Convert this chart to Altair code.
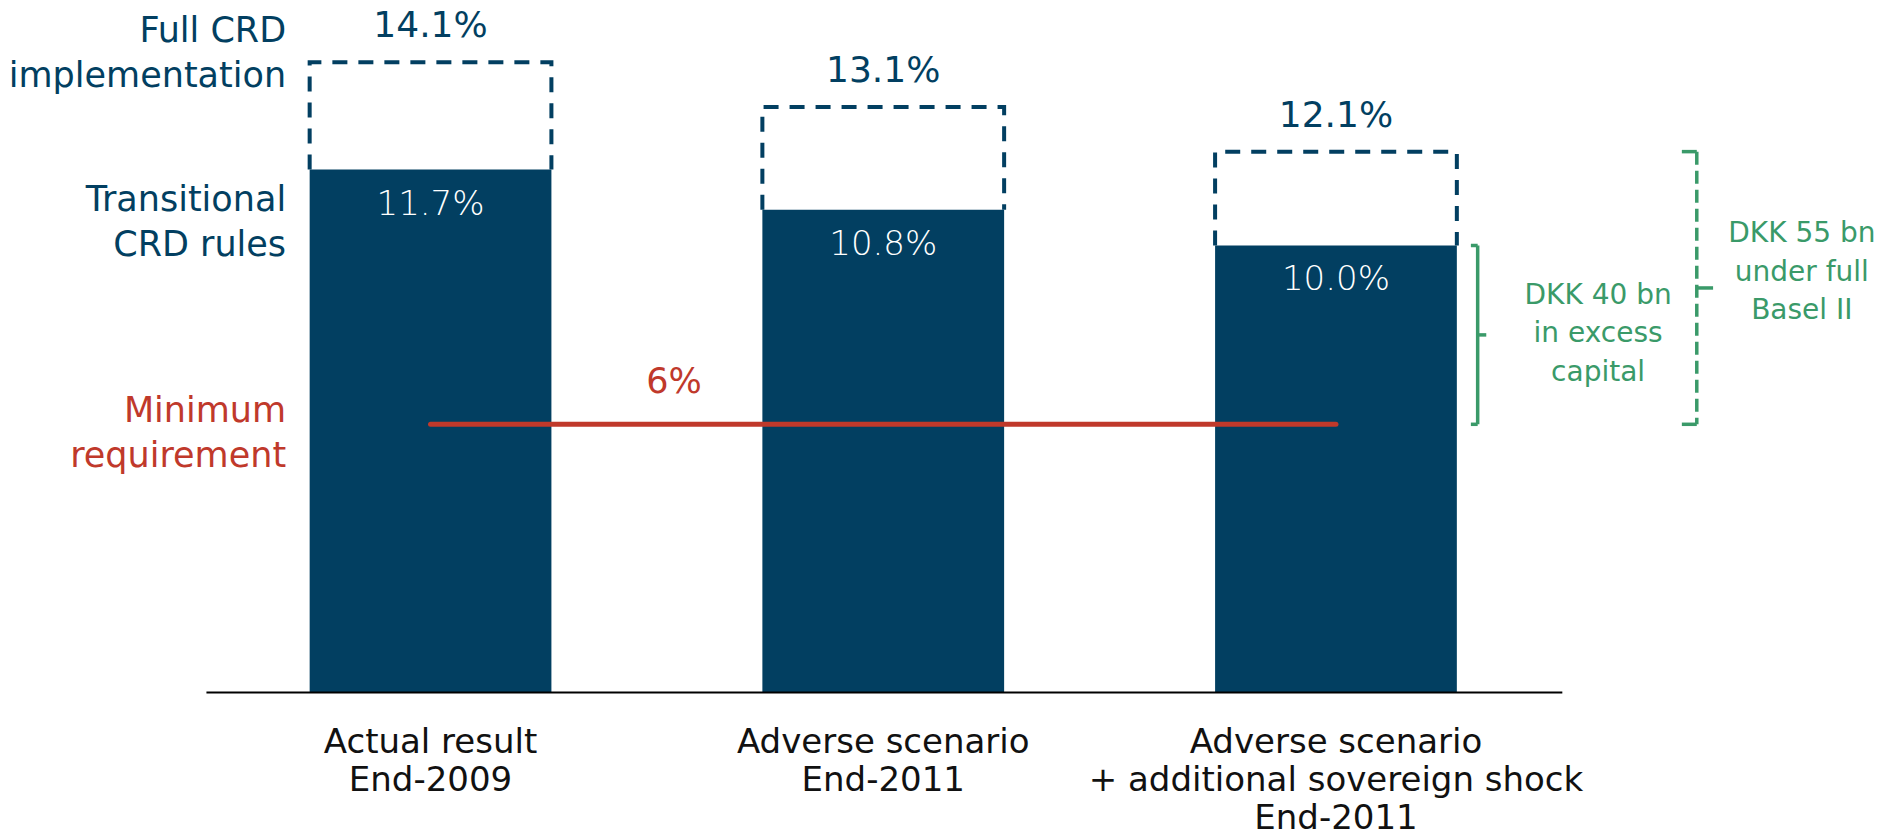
import altair as alt
import pandas as pd

# ---------------- data ----------------
categories = [
    "Actual result\nEnd-2009",
    "Adverse scenario\nEnd-2011",
    "Adverse scenario\n+ additional sovereign shock\nEnd-2011",
]
transitional = [11.7, 10.8, 10.0]      # Transitional CRD rules
full_crd = [14.1, 13.1, 12.1]          # Full CRD implementation
minimum_requirement = 6.0
row_labels = ["Full CRD\nimplementation", "Transitional\nCRD rules", "Minimum\nrequirement"]
excess_labels = ["DKK 40 bn\nin excess\ncapital", "DKK 55 bn\nunder full\nBasel II"]

# ---------------- style ----------------
NAVY = "#023f61"
RED = "#c0392b"
GREEN = "#3a9a69"
FONT = "DejaVu Sans"
H = 0.267  # half bar width in category units

X = alt.Scale(domain=[-0.951, 3.226], nice=False, zero=False)
Y = alt.Scale(domain=[-3.21, 15.492], nice=False, zero=False)


def xq(f):
    return alt.X(f, type="quantitative", scale=X, axis=None)


def yq(f):
    return alt.Y(f, type="quantitative", scale=Y, axis=None)


bars = pd.DataFrame({
    "idx": list(range(len(categories))),
    "cat": categories,
    "trans": transitional,
    "full": full_crd,
})
bars["xl"] = bars["idx"] - H
bars["xr"] = bars["idx"] + H
bars["base"] = 0.0
bars["trans_label"] = [f"{v:.1f}%" for v in transitional]
bars["full_label"] = [f"{v:.1f}%" for v in full_crd]
bars["cat_y"] = -0.76

box_rows = []
for i, (t, f) in enumerate(zip(transitional, full_crd)):
    for k, (dx, yy) in enumerate([(-H, t), (-H, f), (H, f), (H, t)]):
        box_rows.append({"bar": i, "ord": k, "x": i + dx, "y": yy})
box = pd.DataFrame(box_rows)

base = alt.Chart(bars)

solid = base.mark_rect(color=NAVY).encode(
    x=xq("xl"), x2="xr", y=yq("base"), y2="trans"
)

dashed_box = alt.Chart(box).mark_line(
    stroke=NAVY, strokeWidth=4, strokeDash=[15, 11]
).encode(x=xq("x"), y=yq("y"), detail="bar:N", order="ord:Q")

full_text = base.mark_text(
    baseline="middle", dy=-36, fontSize=36, font=FONT, color=NAVY
).encode(x=xq("idx"), y=yq("full"), text="full_label:N")

trans_text = base.mark_text(
    baseline="middle", dy=35, fontSize=34, font=FONT, color="white", fontWeight=200
).encode(x=xq("idx"), y=yq("trans"), text="trans_label:N")

cat_text = base.mark_text(
    baseline="top", align="center", fontSize=34, font=FONT, color="#111111",
    lineBreak="\n", lineHeight=38
).encode(x=xq("idx"), y=yq("cat_y"), text="cat:N")

axis_df = pd.DataFrame({"x": [-0.495], "x2": [2.5], "y": [0.0]})
axis_line = alt.Chart(axis_df).mark_rule(color="black", strokeWidth=2).encode(
    x=xq("x"), x2="x2", y=yq("y")
)

min_df = pd.DataFrame({"x": [0.0], "x2": [2.0], "y": [minimum_requirement],
                       "lx": [0.538], "label": [f"{minimum_requirement:.0f}%"]})
min_line = alt.Chart(min_df).mark_rule(color=RED, strokeWidth=5, strokeCap="round").encode(
    x=xq("x"), x2="x2", y=yq("y")
)
min_text = alt.Chart(min_df).mark_text(
    baseline="middle", dy=-42, fontSize=35, font=FONT, color=RED
).encode(x=xq("lx"), y=yq("y"), text="label:N")

# left-hand row labels (block centres in value units); first line sits at y, so shift up half a block
LH_LEFT = 45
left_df = pd.DataFrame({
    "label": row_labels,
    "x": [-0.319] * 3,
    "y": [14.35, 10.55, 5.85],
    "color": [NAVY, NAVY, RED],
})
left_text = alt.Chart(left_df).mark_text(
    align="right", baseline="middle", fontSize=35, font=FONT, lineBreak="\n",
    lineHeight=LH_LEFT, dy=-LH_LEFT / 2 + 2
).encode(x=xq("x"), y=yq("y"), text="label:N", color=alt.Color("color:N", scale=None))

# brackets
seg = []
xs, tl, nr = 2.313, 2.298, 2.332
top, bot = transitional[2], minimum_requirement
seg += [
    {"x": xs, "x2": xs, "y": top, "y2": bot, "dash": "solid"},
    {"x": tl, "x2": xs, "y": top, "y2": top, "dash": "solid"},
    {"x": tl, "x2": xs, "y": bot, "y2": bot, "dash": "solid"},
    {"x": xs, "x2": nr, "y": (top + bot) / 2, "y2": (top + bot) / 2, "dash": "solid"},
]
xd, tld, nrd = 2.797, 2.764, 2.833
topd = full_crd[2]
seg += [
    {"x": xd, "x2": xd, "y": topd, "y2": bot, "dash": "dashed"},
    {"x": tld, "x2": xd, "y": topd, "y2": topd, "dash": "solid"},
    {"x": tld, "x2": xd, "y": bot, "y2": bot, "dash": "solid"},
    {"x": xd, "x2": nrd, "y": (topd + bot) / 2, "y2": (topd + bot) / 2, "dash": "solid"},
]
seg_df = pd.DataFrame(seg)
br_solid = alt.Chart(seg_df).transform_filter("datum.dash == 'solid'").mark_rule(
    color=GREEN, strokeWidth=3.5
).encode(x=xq("x"), x2="x2", y=yq("y"), y2="y2")
br_dashed = alt.Chart(seg_df).transform_filter("datum.dash == 'dashed'").mark_rule(
    color=GREEN, strokeWidth=3.5, strokeDash=[13, 6]
).encode(x=xq("x"), x2="x2", y=yq("y"), y2="y2")

LH_GREEN = 38.5
green_df = pd.DataFrame({
    "label": excess_labels,
    "x": [2.579, 3.029],
    "y": [8.06, 9.44],
})
green_text = alt.Chart(green_df).mark_text(
    align="center", baseline="middle", fontSize=28, font=FONT, color=GREEN,
    lineBreak="\n", lineHeight=LH_GREEN, dy=-LH_GREEN + 2
).encode(x=xq("x"), y=yq("y"), text="label:N")

chart = alt.layer(
    solid, dashed_box, full_text, trans_text, min_line, min_text, axis_line,
    cat_text, left_text, br_solid, br_dashed, green_text
).properties(
    width=1891, height=836, autosize=alt.AutoSizeParams(type="none"), padding=0,
    background="white"
).configure_view(stroke=None)

chart.save("out.html", embed_options={"renderer": "svg", "actions": False})
